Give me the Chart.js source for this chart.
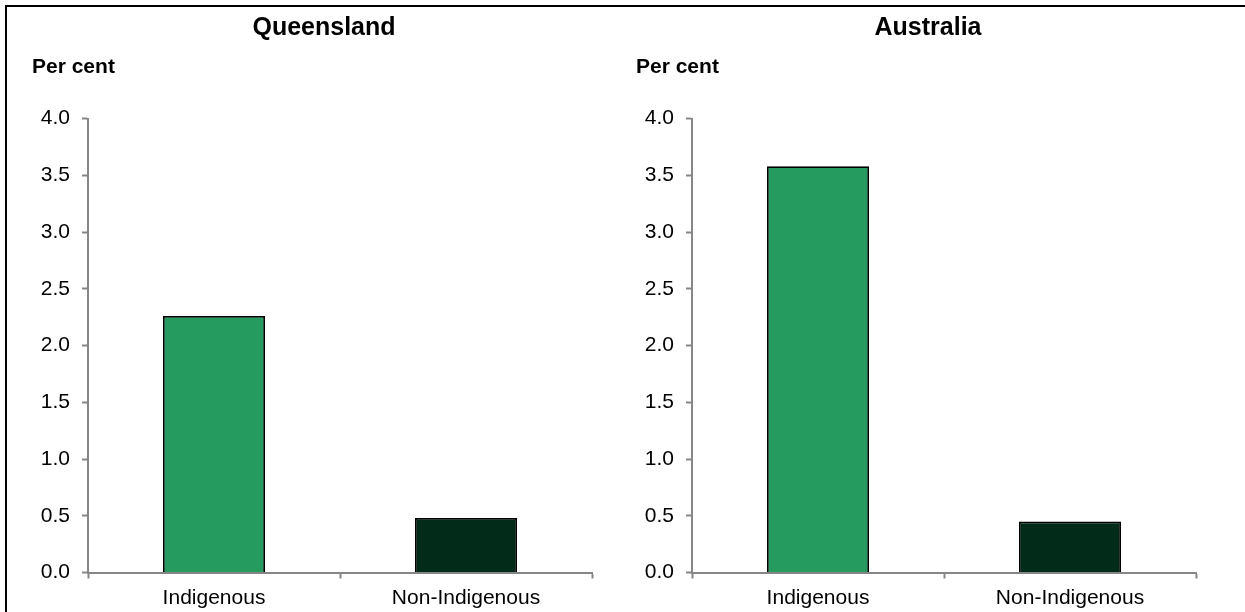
<!DOCTYPE html>
<html>
<head>
<meta charset="utf-8">
<script src="https://cdn.jsdelivr.net/npm/chart.js@4.4.0/dist/chart.umd.min.js"></script>
<style>
  html, body { margin: 0; padding: 0; background: #fff; }
  #wrap { position: relative; width: 1245px; height: 612px; overflow: hidden; }
  #frame { position: absolute; left: 5px; top: 5px; width: 1400px; height: 800px; border: 2px solid #000; }
  canvas { position: absolute; top: 0; }
</style>
</head>
<body>
<div id="wrap">
  <div id="frame"></div>
  <canvas id="chartQld" width="648" height="612" style="left:0px"></canvas>
  <canvas id="chartAus" width="648" height="612" style="left:604px"></canvas>
</div>
<script>
var categories = ["Indigenous", "Non-Indigenous"];
var queensland = [2.26, 0.48];
var australia = [3.58, 0.45];
var barColours = ["#269B5F", "#022B19"];
var yMax = 4;
var yStep = 0.5;

var fontFamily = "'Liberation Sans', Arial, sans-serif";
var axisGrey = "#868686";

// panel title centred on the canvas, "Per cent" above the y axis
var panelText = {
    id: 'panelText',
    afterDraw: function(chart, args, opts) {
        var ctx = chart.ctx;
        ctx.save();
        ctx.fillStyle = "#000";
        ctx.textBaseline = "middle";
        ctx.font = "bold 25px " + fontFamily;
        ctx.textAlign = "center";
        ctx.fillText(opts.title, chart.width / 2, 28);
        ctx.font = "bold 21px " + fontFamily;
        ctx.textAlign = "left";
        ctx.fillText("Per cent", chart.chartArea.left - 56, 67);
        ctx.restore();
    }
};

function makeChart(id, title, values) {
    var ctx = document.getElementById(id);
    return new Chart(ctx, {
        type: 'bar',
        data: {
            labels: categories,
            datasets: [{
                data: values,
                backgroundColor: barColours,
                borderColor: '#000',
                borderWidth: 1.8,
                categoryPercentage: 1,
                barPercentage: 0.405
            }]
        },
        options: {
            responsive: false,
            animation: false,
            layout: { padding: { left: 0, right: 56, top: 118.5, bottom: 0 } },
            plugins: {
                legend: { display: false },
                tooltip: { enabled: false },
                title: { display: false },
                panelText: { title: title }
            },
            scales: {
                x: {
                    offset: true,
                    grid: {
                        display: true,
                        offset: true,
                        drawOnChartArea: false,
                        drawTicks: true,
                        tickLength: 6,
                        tickWidth: 2,
                        tickColor: axisGrey
                    },
                    border: { display: true, color: axisGrey, width: 2 },
                    ticks: {
                        color: '#000',
                        padding: 7,
                        font: { family: fontFamily, size: 21 }
                    },
                    afterFit: function(s) { s.height = 39.5; }
                },
                y: {
                    min: 0,
                    max: yMax,
                    grid: {
                        display: true,
                        drawOnChartArea: false,
                        drawTicks: true,
                        tickLength: 6,
                        tickWidth: 2,
                        tickColor: axisGrey
                    },
                    border: { display: true, color: axisGrey, width: 2 },
                    ticks: {
                        stepSize: yStep,
                        color: '#000',
                        padding: 12,
                        font: { family: fontFamily, size: 21 },
                        callback: function(v) { return v.toFixed(1); }
                    },
                    afterFit: function(s) { s.width = 88; }
                }
            }
        },
        plugins: [panelText]
    });
}

var chartQld = makeChart("chartQld", "Queensland", queensland);
var chartAus = makeChart("chartAus", "Australia", australia);
</script>
</body>
</html>
